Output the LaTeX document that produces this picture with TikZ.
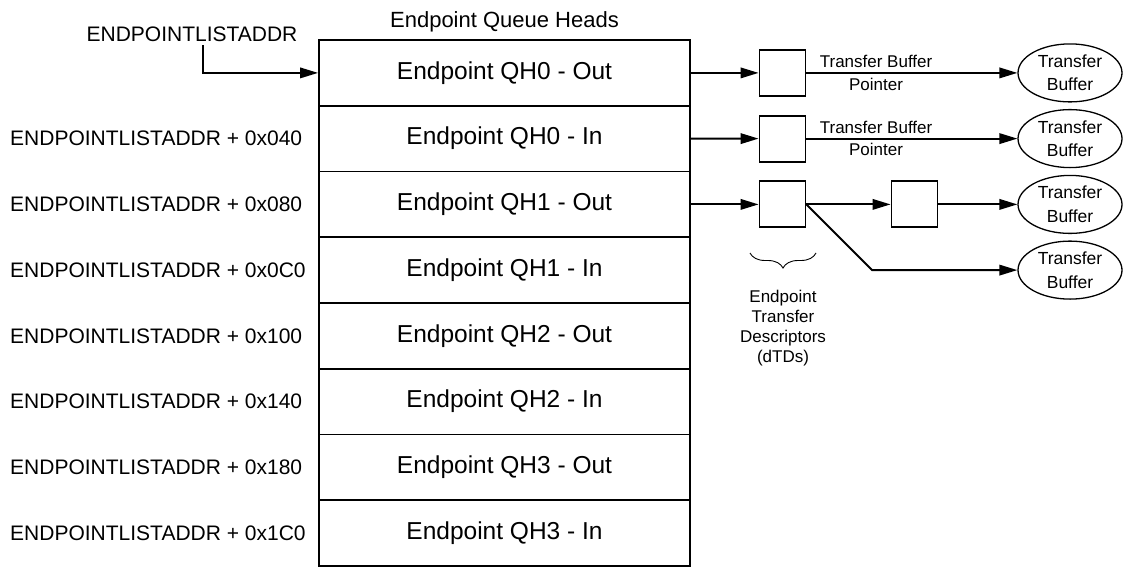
\documentclass[tikz,border=0pt]{standalone}
\usepackage{fontspec}
\setmainfont{Liberation Sans}
\usetikzlibrary{arrows.meta,shapes.geometric,decorations.pathreplacing}
\tikzset{>/.tip={Triangle[length=18pt,width=10.5pt]}}

\begin{document}
\begin{tikzpicture}[x=1pt,y=-1pt,
  qh/.style={draw,line width=1.9pt,minimum width=371pt,minimum height=65.75pt,inner sep=0pt,font=\fontsize{24.5}{28}\selectfont},
  addr/.style={anchor=west,inner sep=0pt,font=\fontsize{21}{24}\selectfont},
  dtd/.style={draw,line width=1.9pt,minimum size=46pt,inner sep=0pt},
  buf/.style={draw,ellipse,line width=1.3pt,minimum width=104pt,minimum height=58pt,inner sep=0pt,align=center,font=\fontsize{17.5}{23.5}\selectfont},
  lbl/.style={font=\fontsize{17}{20}\selectfont,inner sep=4pt},
  link/.style={->,line width=1.9pt}]
\useasboundingbox (0,0) rectangle (1123,568);
% queue heads
\node[font=\fontsize{22}{26}\selectfont] (title) at (504.5,22) {Endpoint Queue Heads};
\foreach \txt [count=\i from 0] in {QH0 - Out,QH0 - In,QH1 - Out,QH1 - In,QH2 - Out,QH2 - In,QH3 - Out,QH3 - In}
{
  \node[qh] (qh\i) at (504.5,{72.9+65.75*\i}) {Endpoint \txt};
}
\node[addr,anchor=center] (addr0) at (192,34) {ENDPOINTLISTADDR};
\foreach \off [count=\i] in {040,080,0C0,100,140,180,1C0}
{
  \node[addr] (addr\i) at (10,{72.9+65.75*\i}) {ENDPOINTLISTADDR + 0x\off};
}
% descriptors and buffers
\node[dtd] (dtd0) at (782.5,72.9) {};
\node[dtd] (dtd1) at (782.5,138.6) {};
\node[dtd] (dtd2) at (782.5,204.4) {};
\node[dtd] (dtd3) at (914.5,204.4) {};
\node[buf] (buf0) at (1070,72.9) {Transfer\\Buffer};
\node[buf] (buf1) at (1070,138.6) {Transfer\\Buffer};
\node[buf] (buf2) at (1070,204.4) {Transfer\\Buffer};
\node[buf] (buf3) at (1070,270.1) {Transfer\\Buffer};
\node[align=center,font=\fontsize{17}{20}\selectfont] (dtdlbl) at (783,328.5) {Endpoint\\Transfer\\Descriptors\\(dTDs)};
\coordinate (start) at (203,45);
\coordinate (fork) at (872,270.1);
\coordinate (bl) at (750,253);
\coordinate (br) at (816,253);
% links
\draw[link] (start) |- (qh0.west);
\foreach \i in {0,1,2}
  \draw[link] (qh\i.east) -- (dtd\i.west);
\foreach \i in {0,1}
  \draw[link] (dtd\i.east) -- node[lbl,above,pos=0.33] {Transfer Buffer} node[lbl,below,pos=0.33] {Pointer} (buf\i.west);
\draw[link] (dtd2.east) -- (dtd3.west);
\draw[link] (dtd3.east) -- (buf2.west);
\draw[link] (dtd2.east) -- (fork) -- (buf3.west);
\draw[line width=0.9pt,decorate,decoration={brace,amplitude=15pt,aspect=0.5,mirror}] (bl) -- (br);
\end{tikzpicture}
\end{document}
